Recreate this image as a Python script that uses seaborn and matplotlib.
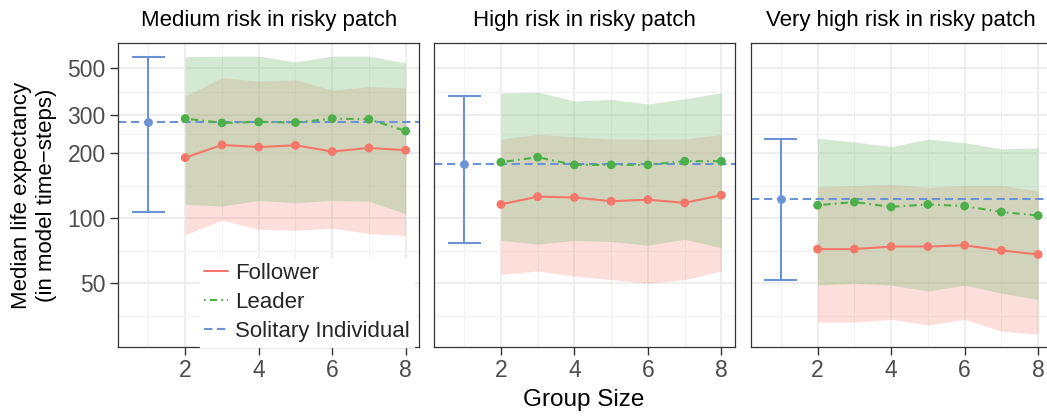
import matplotlib
matplotlib.use("Agg")
import matplotlib.pyplot as plt
from matplotlib.lines import Line2D
import numpy as np
import pandas as pd
import seaborn as sns

# ---- data -----------------------------------------------------------------
group_sizes = [2, 3, 4, 5, 6, 7, 8]
panel_titles = ["Medium risk in risky patch",
                "High risk in risky patch",
                "Very high risk in risky patch"]

follower_median = [[191, 219, 214, 218, 204, 212, 207],
                   [116, 126, 125, 120, 122, 118, 128],
                   [72, 72, 74, 74, 75, 71, 68]]
follower_lower = [[84, 98, 89, 88, 90, 85, 83],
                  [55, 57, 54, 52, 50, 52, 57],
                  [33, 33, 34, 32, 34, 30, 29]]
follower_upper = [[369, 449, 433, 439, 393, 408, 403],
                  [233, 245, 239, 233, 233, 233, 245],
                  [140, 142, 144, 139, 142, 142, 134]]

leader_median = [[290, 277, 280, 278, 290, 288, 254],
                 [182, 192, 177, 177, 177, 184, 184],
                 [115, 119, 113, 116, 114, 107, 103]]
leader_lower = [[116, 114, 121, 118, 121, 120, 105],
                [79, 76, 79, 78, 75, 80, 73],
                [49, 50, 49, 46, 49, 45, 42]]
leader_upper = [[561, 565, 565, 532, 565, 565, 525],
                [381, 385, 350, 356, 339, 358, 382],
                [235, 226, 215, 233, 224, 210, 212]]

solitary_size = 1
solitary_median = [281, 179, 123]
solitary_lower = [107, 77, 52]
solitary_upper = [561, 370, 233]

y_major = [50, 100, 200, 300, 500]
y_minor = [35.4, 70.7, 141, 245, 387]
x_major = [2, 4, 6, 8]
x_minor = [1, 3, 5, 7]

roles = ["Follower", "Leader", "Solitary Individual"]
colors = {"Follower": "#F4776A", "Leader": "#4DAF4A", "Solitary Individual": "#6C93D6"}
ribbon_colors = {"Follower": ("#F7826C", 0.25), "Leader": ("#87C384", 0.36)}

# long table of the group-size series
rows = []
for p in range(3):
    for role, med, lo, hi in [("Follower", follower_median, follower_lower, follower_upper),
                              ("Leader", leader_median, leader_lower, leader_upper)]:
        for i, g in enumerate(group_sizes):
            rows.append({"panel": p, "role": role, "size": g,
                         "median": med[p][i], "lower": lo[p][i], "upper": hi[p][i]})
df = pd.DataFrame(rows)

# ---- style ------------------------------------------------------------------
sns.set_theme(style="white")
plt.rcParams["font.family"] = ["Liberation Sans", "DejaVu Sans"]

W, H = 1047, 419
fig = plt.figure(figsize=(W / 100, H / 100), dpi=100)

lefts = [118.3, 434.0, 750.7]
pw, ph = 301.0, 304.0
pb = H - 346.7

LW = 1.5
dash_styles = {"Follower": "", "Leader": (0.8, 2.0, 3.5, 2.0)}

for p in range(3):
    ax = fig.add_axes([lefts[p] / W, pb / H, pw / W, ph / H])
    sub = df[df["panel"] == p]

    # translucent interquartile ribbons
    for role in ["Follower", "Leader"]:
        r = sub[sub["role"] == role]
        c, a = ribbon_colors[role]
        ax.fill_between(r["size"], r["lower"], r["upper"], color=c, alpha=a,
                        linewidth=0, zorder=1)

    sns.lineplot(data=sub, x="size", y="median", hue="role", style="role",
                 palette=colors, dashes=dash_styles, estimator=None,
                 linewidth=LW, legend=False, ax=ax, zorder=3)
    sns.scatterplot(data=sub, x="size", y="median", hue="role",
                    palette=colors, s=40, linewidth=0, legend=False,
                    ax=ax, zorder=4)

    # solitary individual: median with range, and reference line
    sc = colors["Solitary Individual"]
    ax.axhline(solitary_median[p], color=sc, lw=LW, dashes=(4, 2.2), zorder=2)
    ax.vlines(solitary_size, solitary_lower[p], solitary_upper[p], color=sc,
              lw=LW, zorder=3)
    ax.hlines([solitary_lower[p], solitary_upper[p]], solitary_size - 0.45,
              solitary_size + 0.45, color=sc, lw=LW, zorder=3)
    ax.scatter([solitary_size], [solitary_median[p]], color=sc, s=40,
               linewidths=0, zorder=4)

    ax.set_yscale("log")
    ax.set_ylim(25.4, 652)
    ax.set_xlim(0.18, 8.37)
    ax.set_yticks(y_major)
    ax.set_yticks(y_minor, minor=True)
    ax.set_xticks(x_major)
    ax.set_xticks(x_minor, minor=True)
    ax.set_xticklabels([str(v) for v in x_major])
    if p == 0:
        ax.set_yticklabels([str(v) for v in y_major])
    else:
        ax.set_yticklabels([])
    ax.yaxis.set_minor_formatter(matplotlib.ticker.NullFormatter())

    ax.set_axisbelow(True)
    ax.grid(which="major", color="#EBEBEB", lw=1.2, zorder=0)
    ax.grid(which="minor", color="#F1F1F1", lw=0.8, zorder=0)
    ax.tick_params(axis="both", which="minor", length=0)
    ax.tick_params(axis="x", which="major", length=5.5, width=1.0,
                   color="#333333", labelsize=16.5, labelcolor="#4D4D4D",
                   pad=3.5, direction="out", bottom=True)
    if p == 0:
        ax.tick_params(axis="y", which="major", length=5.5, width=1.0,
                       color="#333333", labelsize=16.5, labelcolor="#4D4D4D",
                       pad=3.5, direction="out", left=True)
    else:
        ax.tick_params(axis="y", which="major", length=0)
    for s in ax.spines.values():
        s.set_color("#333333")
        s.set_linewidth(0.9)
    ax.set_xlabel("")
    ax.set_ylabel("")
    ax.set_title(panel_titles[p], fontsize=16, color="black", pad=12)

    if p == 0:
        handles = [
            Line2D([], [], color=colors["Follower"], lw=LW),
            Line2D([], [], color=colors["Leader"], lw=LW, dashes=dash_styles["Leader"]),
            Line2D([], [], color=colors["Solitary Individual"], lw=LW, dashes=(4, 2.2)),
        ]
        leg = ax.legend(handles, roles, loc="lower left",
                        bbox_to_anchor=(0.27, 0.0), borderaxespad=0,
                        fontsize=16, frameon=True, fancybox=False,
                        framealpha=1, facecolor="white", edgecolor="white",
                        handlelength=1.1, handletextpad=0.3, labelspacing=0.36,
                        borderpad=0.2)
        leg.set_zorder(5)

fig.text(584 / W, 1 - 400 / H, "Group Size", ha="center", va="center",
         fontsize=17.5, color="black")
fig.text(34 / W, 1 - 195 / H,
         "Median life expectancy\n(in model time\u2212steps)",
         ha="center", va="center", rotation=90, fontsize=16,
         linespacing=1.25, multialignment="center", color="black")

fig.savefig("out.png", dpi=100)
